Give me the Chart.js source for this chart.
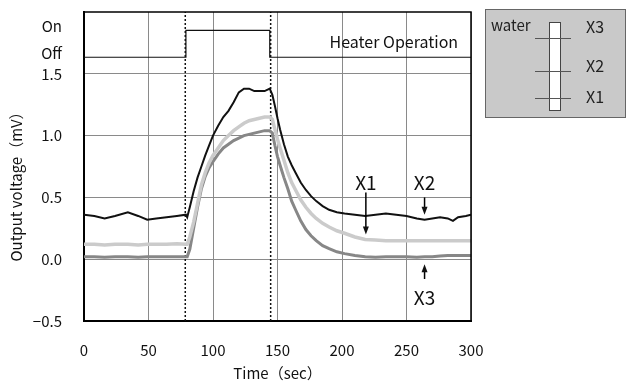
<!DOCTYPE html>
<html>
<head>
<meta charset="utf-8">
<script src="https://cdn.jsdelivr.net/npm/chart.js@4/dist/chart.umd.min.js"></script>
<style>
  html, body { margin: 0; padding: 0; background: #fff; }
  #wrap { width: 627px; height: 382px; position: relative; }
</style>
</head>
<body>
<div id="wrap"><canvas id="chart"></canvas></div>
<script>
// time axis (sec), shared by the three thermocouple traces
const timeSec = [0, 8, 16, 24, 34, 42, 49, 56, 64, 72, 79, 80, 82, 85, 88, 91, 94, 97, 100, 104,
  108, 112, 116, 120, 124, 128, 132, 136, 140, 144, 146, 148, 150, 152, 155, 158, 161, 164, 168,
  172, 176, 180, 185, 190, 196, 202, 210, 218, 226, 234, 242, 250, 258, 264, 270, 276, 282, 286,
  290, 296, 300];

// X2 (black)
const x2Values = [0.36, 0.35, 0.33, 0.35, 0.38, 0.35, 0.32, 0.33, 0.34, 0.35, 0.36, 0.34, 0.42, 0.55,
  0.66, 0.75, 0.84, 0.92, 1.00, 1.08, 1.15, 1.20, 1.27, 1.35, 1.38, 1.38, 1.36, 1.36, 1.36, 1.38,
  1.33, 1.24, 1.14, 1.05, 0.93, 0.83, 0.76, 0.70, 0.62, 0.56, 0.51, 0.47, 0.43, 0.40, 0.38, 0.37,
  0.36, 0.35, 0.36, 0.37, 0.36, 0.35, 0.33, 0.32, 0.33, 0.34, 0.33, 0.31, 0.34, 0.35, 0.36];

// X1 (light gray)
const x1Values = [0.12, 0.12, 0.115, 0.12, 0.12, 0.115, 0.12, 0.12, 0.12, 0.125, 0.12, 0.12, 0.18,
  0.30, 0.45, 0.60, 0.70, 0.78, 0.84, 0.90, 0.96, 1.00, 1.04, 1.07, 1.10, 1.12, 1.13, 1.14, 1.15,
  1.15, 1.13, 1.05, 0.97, 0.90, 0.80, 0.70, 0.62, 0.56, 0.48, 0.42, 0.37, 0.33, 0.29, 0.26, 0.23,
  0.21, 0.18, 0.16, 0.155, 0.15, 0.15, 0.15, 0.15, 0.15, 0.15, 0.15, 0.15, 0.15, 0.15, 0.15, 0.15];

// X3 (mid gray)
const x3Values = [0.02, 0.02, 0.015, 0.02, 0.02, 0.015, 0.02, 0.02, 0.02, 0.02, 0.02, 0.02, 0.08,
  0.25, 0.42, 0.57, 0.67, 0.74, 0.79, 0.85, 0.90, 0.93, 0.96, 0.98, 1.00, 1.01, 1.02, 1.03, 1.04,
  1.04, 1.02, 0.92, 0.83, 0.76, 0.66, 0.57, 0.47, 0.40, 0.31, 0.24, 0.19, 0.15, 0.11, 0.085, 0.06,
  0.045, 0.03, 0.02, 0.015, 0.02, 0.02, 0.02, 0.015, 0.02, 0.02, 0.025, 0.03, 0.03, 0.03, 0.03, 0.03];

// heater on/off trace in the upper strip
const heaterTime = [0, 79, 79, 144, 144, 300];
const heaterState = [0, 0, 1, 1, 0, 0];
const offLevel = 1.634;
const onLevel = 1.852;
const heaterMarks = [78.5, 144.7];

// axis ticks
const xTicks = [0, 50, 100, 150, 200, 250, 300];
const yTicks = [-0.5, 0, 0.5, 1.0, 1.5];
const yTickLabels = ['\u22120.5', '0.0', '0.5', '1.0', '1.5'];
const stateTicks = [1.665, 1.885];
const stateTickLabels = ['Off', 'On'];

const FONT = "'Noto Sans CJK JP', 'Liberation Sans', sans-serif";

const toPts = (xs, ys) => xs.map((t, i) => ({ x: t, y: ys[i] }));

const annotations = [
  { text: 'X1', t: 218.5, textV: 0.62, from: 0.54, to: 0.20 },
  { text: 'X2', t: 264, textV: 0.62, from: 0.50, to: 0.36 },
  { text: 'X3', t: 264, textV: -0.31, from: -0.16, to: -0.04 }
];

const extras = {
  id: 'extras',
  afterDatasetsDraw(chart) {
    const { ctx, chartArea: a, scales: { x, y } } = chart;
    ctx.save();
    // frame
    ctx.strokeStyle = '#000';
    ctx.lineWidth = 1.5;
    ctx.beginPath();
    ctx.moveTo(a.left, a.top);
    ctx.lineTo(a.right, a.top);
    ctx.lineTo(a.right, a.bottom);
    ctx.stroke();

    ctx.fillStyle = '#111';
    ctx.font = '16px ' + FONT;
    ctx.textAlign = 'right';
    ctx.textBaseline = 'middle';
    ctx.fillText('Heater Operation', x.getPixelForValue(290), y.getPixelForValue(1.755));

    // arrows + labels
    annotations.forEach(an => {
      const px = x.getPixelForValue(an.t);
      ctx.font = '19px ' + FONT;
      ctx.textAlign = 'center';
      ctx.fillText(an.text, px, y.getPixelForValue(an.textV));
      const y0 = y.getPixelForValue(an.from), y1 = y.getPixelForValue(an.to);
      const dir = y1 > y0 ? 1 : -1;
      ctx.lineWidth = 1.5;
      ctx.beginPath();
      ctx.moveTo(px, y0);
      ctx.lineTo(px, y1 - dir * 6);
      ctx.stroke();
      ctx.beginPath();
      ctx.moveTo(px, y1);
      ctx.lineTo(px - 3, y1 - dir * 8);
      ctx.lineTo(px + 3, y1 - dir * 8);
      ctx.closePath();
      ctx.fill();
    });

    // y axis title
    ctx.save();
    ctx.translate(16, 183);
    ctx.rotate(-Math.PI / 2);
    ctx.font = '15px ' + FONT;
    ctx.textAlign = 'center';
    ctx.fillText('Output voltage（mV）', 0, 0);
    ctx.restore();

    // sensor position legend
    ctx.fillStyle = '#c9c9c9';
    ctx.fillRect(485, 9, 141, 109);
    ctx.strokeStyle = '#666';
    ctx.lineWidth = 1;
    ctx.strokeRect(485.5, 9.5, 140, 108);
    ctx.fillStyle = '#fff';
    ctx.fillRect(549, 22, 12, 89);
    ctx.strokeStyle = '#444';
    ctx.strokeRect(549.5, 22.5, 11, 88);
    ctx.strokeStyle = '#555';
    [38, 71, 98].forEach(ly => {
      ctx.beginPath();
      ctx.moveTo(535, ly + 0.5);
      ctx.lineTo(571, ly + 0.5);
      ctx.stroke();
    });
    ctx.fillStyle = '#222';
    ctx.font = '15px ' + FONT;
    ctx.textAlign = 'left';
    ctx.fillText('water', 491, 25);
    ctx.font = '16px ' + FONT;
    ctx.fillText('X3', 586, 27);
    ctx.fillText('X2', 586, 66);
    ctx.fillText('X1', 586, 97);
    ctx.restore();
  }
};

const datasets = [
  { data: toPts(timeSec, x1Values), borderColor: '#cbcbcb', borderWidth: 3.5 },
  { data: toPts(timeSec, x3Values), borderColor: '#878787', borderWidth: 3 },
  { data: toPts(timeSec, x2Values), borderColor: '#111', borderWidth: 2 },
  { data: toPts(heaterTime, heaterState.map(s => s ? onLevel : offLevel)), borderColor: '#111', borderWidth: 1.2 }
];
heaterMarks.forEach(t => datasets.push({
  data: [{ x: t, y: -0.5 }, { x: t, y: 2.0 }], borderColor: '#111', borderWidth: 1.5, borderDash: [2, 2]
}));

new Chart(document.getElementById('chart'), {
  type: 'line',
  data: { datasets },
  options: {
    responsive: true,
    maintainAspectRatio: false,
    animation: false,
    devicePixelRatio: 1,
    layout: { padding: { top: 12, right: 156, left: 0, bottom: 0 } },
    elements: { point: { radius: 0 }, line: { tension: 0 } },
    plugins: { legend: { display: false }, tooltip: { enabled: false } },
    scales: {
      x: {
        type: 'linear', min: 0, max: 300,
        afterBuildTicks: s => { s.ticks = xTicks.map(v => ({ value: v })); },
        ticks: { color: '#111', font: { family: FONT, size: 15 }, padding: 20 },
        grid: { color: '#8a8a8a', lineWidth: 1, drawTicks: false },
        border: { color: '#000', width: 2 },
        title: { display: true, text: 'Time（sec）', color: '#111', font: { family: FONT, size: 15 }, padding: 0 },
        afterFit: s => { s.height = 61; s.paddingLeft = 0; s.paddingRight = 0; }
      },
      y: {
        type: 'linear', min: -0.5, max: 2.0,
        afterBuildTicks: s => { s.ticks = yTicks.concat(stateTicks).map(v => ({ value: v })); },
        ticks: {
          color: '#111', font: { family: FONT, size: 15 }, padding: 22,
          callback: v => {
            const i = yTicks.indexOf(v);
            if (i >= 0) return yTickLabels[i];
            return stateTickLabels[stateTicks.indexOf(v)];
          }
        },
        grid: {
          color: c => (stateTicks.includes(c.tick.value) ? 'rgba(0,0,0,0)' : '#8a8a8a'),
          lineWidth: 1, drawTicks: false
        },
        border: { color: '#000', width: 2 },
        afterFit: s => { s.width = 84; s.paddingTop = 0; s.paddingBottom = 0; }
      }
    }
  },
  plugins: [extras]
});
</script>
</body>
</html>
